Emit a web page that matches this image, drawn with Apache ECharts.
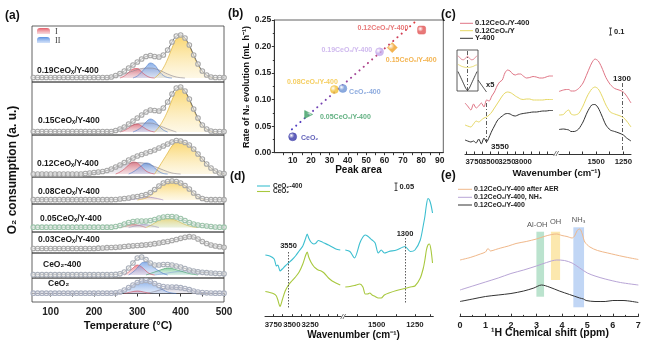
<!DOCTYPE html>
<html><head><meta charset="utf-8">
<script src="https://cdn.jsdelivr.net/npm/echarts@6/dist/echarts.min.js"></script>
<style>html,body{margin:0;padding:0;background:#fff}#c{width:664px;height:347px}</style>
</head><body><div id="c"></div>
<script>
const F = 'Arial, "Liberation Sans", Helvetica, sans-serif';
const fb = s => 'bold ' + s + 'px ' + F;

// ---------------- (a) O2-TPD data ----------------
const tempC = [60,70,80,90,100,110,120,130,140,150,160,170,180,190,200,210,220,230,240,250,260,270,280,290,300,310,320,330,340,350,360,370,380,390,400,410,420,430,440,450,460,470,480,490,500];
const aNames = ['0.19CeOₓ/Y-400','0.15CeOₓ/Y-400','0.12CeOₓ/Y-400','0.08CeOₓ/Y-400','0.05CeOₓ/Y-400','0.03CeOₓ/Y-400','CeO₂-400','CeO₂'];
const o2_019 = [0.5,0.5,0.5,0.5,0.5,0.5,0.5,0.5,0.5,0.5,0.5,0.5,0.5,0.5,0.5,0.5,0.5,0.5,1,2.5,4.5,7,10,13,16,19,21.5,22.5,21.5,21,23,28,36,42,43,40,33,23,14,7,3,1,0.5,0.5,0.5];
const o2_015 = [0.5,0.5,0.5,0.5,0.5,0.5,0.5,0.5,0.5,0.5,0.5,0.5,0.5,0.5,0.5,0.5,0.5,0.5,0.5,1.5,3,5,8,11,14,17,20,22,21.5,21,24,30,38,44,45,41,33,23,14,7,3,1,0.5,0.5,0.5];
const o2_012 = [0,0,0,0,0,0,0,0,0,0,0,0,0.5,1,1.5,2,2.5,3.5,5,7,9,11.5,14,16,18,19.5,21,22.5,24,26,28,30,32,33.5,33,31.5,29,25,20,15,10,6,3,1,0.5];
const o2_008 = [0.3,0.3,0.3,0.3,0.3,0.3,0.3,0.3,0.3,0.3,0.3,0.3,0.3,0.3,0.3,0.3,0.3,0.3,0.3,0.5,1,1.5,2,3,3.5,4.5,5.5,7.5,10.5,14,17,18.5,19,18.5,17,14.5,11,7,3.5,1.5,0.5,0.3,0.3,0.3,0.3];
const o2_005 = [0.3,0.3,0.3,0.3,0.3,0.3,0.3,0.3,0.3,0.3,0.3,0.3,0.3,0.3,0.3,0.3,0.3,0.3,0.3,1,2,3.5,5,6,6.5,6.5,6.5,7,8,9.5,10.5,11,11,10.5,9,7,5,3.5,2.5,2,1.5,1,0.5,0.3,0.3];
const o2_003 = [0,0,0,0,0,0,0,0,0,0,0,0,0,0,0,0.3,0.5,0.8,1,1.2,1.5,2,2.3,2.7,3,3.3,3.7,4.2,4.8,5.5,6.3,7,8,9,10.2,11.2,11.8,11.5,9.5,7,5,3.5,2.5,1.8,1.2];
const o2_c400 = [0.3,0.3,0.3,0.3,0.3,0.3,0.3,0.3,0.3,0.3,0.3,0.3,0.3,0.3,0.3,0.3,0.3,0.3,0.3,0.6,1.2,3,7,12,17,18,15.5,12,10,10,10.5,10.5,10,9,8,6.5,5,4,3.2,2.7,2.3,2,1.7,1.4,1.2];
const o2_ceo2 = [0.3,0.3,0.3,0.3,0.3,0.3,0.3,0.3,0.3,0.3,0.3,0.3,0.3,0.3,0.3,0.3,0.3,0.3,0.3,0.6,1.5,3.5,6,8.5,11,12.5,13,12,10,8,7,6.5,6.5,6.3,5.8,5,3.8,2.5,1.5,1,0.7,0.5,0.3,0.3,0.3];

// fitted peaks [temperature, intensity]
const pk019_br = [[230,0],[250,1.5],[270,4],[290,7],[310,9.5],[330,10],[350,8],[370,4],[390,1],[410,0]];
const pk019_I = [[260,0],[270,2],[280,5.5],[290,9],[300,9.5],[310,6],[320,2.5],[330,0.5],[340,0]];
const pk019_II = [[290,0],[300,2],[310,6],[320,11],[330,15],[340,13],[350,7],[360,2.5],[370,0.5],[380,0]];
const pk019_III = [[340,0],[350,4],[360,10],[370,19],[380,30],[390,39],[400,42],[410,39],[420,32],[430,22],[440,13],[450,6.5],[460,2.5],[470,0.5],[480,0]];
const pk015_br = [[230,0],[250,1.5],[270,4],[290,7],[310,9],[330,9],[350,6.5],[370,3],[390,0]];
const pk015_I = [[260,0],[270,1.5],[280,4],[290,7],[300,8],[310,6],[320,3],[330,1],[340,0]];
const pk015_II = [[290,0],[300,2],[310,5],[320,10],[330,13],[340,11],[350,6],[360,2],[370,0]];
const pk015_III = [[340,0],[350,5],[360,12],[370,21],[380,32],[390,41],[400,44],[410,40],[420,32],[430,22],[440,13],[450,6.5],[460,2.5],[470,0.5],[480,0]];
const pk012_br = [[180,0],[200,1],[220,2.5],[240,5],[260,8],[280,10.5],[300,11.5],[320,10.5],[340,7.5],[360,4],[380,1],[400,0]];
const pk012_I = [[250,0],[260,2],[270,5],[280,9],[290,12],[300,11],[310,7],[320,3],[330,1],[340,0]];
const pk012_II = [[280,0],[290,2],[300,5],[310,8.5],[320,11],[330,10],[340,6],[350,2.5],[360,0.5],[370,0]];
const pk012_III = [[340,0],[350,7],[360,14],[370,21],[380,28],[390,32],[400,32.5],[410,31],[420,28],[430,24.5],[440,20],[450,15],[460,10],[470,6],[480,3],[490,1],[500,0]];
const pk008_pu = [[280,0],[300,1.5],[320,3],[340,2],[360,0]];
const pk008_III = [[300,0],[320,2],[330,4.5],[340,8],[350,12],[360,15.5],[370,17.5],[380,18.5],[390,18],[400,16.5],[410,14],[420,10.5],[430,6.5],[440,3],[450,1],[460,0]];
const pk005_I = [[260,0],[275,1.5],[290,3],[305,2],[320,0]];
const pk005_pu = [[280,0],[300,2],[315,3],[330,2],[350,0]];
const pk005_III = [[320,0],[330,2],[340,4.5],[350,7],[360,8.5],[370,9],[380,8.5],[390,7],[400,5],[410,3],[420,1.5],[430,0.5],[440,0]];
const pkc400_lb = [[340,0],[370,2],[400,4],[420,4.5],[440,4],[470,2.5],[500,1.5]];
const pkc400_gr = [[320,0],[340,3],[360,6],[370,7],[380,6.5],[400,4],[420,1.5],[440,0]];
const pkc400_I = [[270,0],[280,3],[290,7],[300,10],[310,8],[320,4],[330,1],[340,0]];
const pkc400_II = [[280,0],[290,3],[300,7],[310,12],[320,13],[330,11],[340,7],[350,4],[360,1.5],[370,0]];
const pkceo2_br = [[320,0],[340,2],[360,4.5],[380,6],[400,5.5],[420,3.5],[440,1.5],[460,0.5],[470,0]];
const pkceo2_I = [[270,0],[285,1.5],[300,2.5],[315,1.5],[330,0]];
const pkceo2_II = [[260,0],[270,2],[280,4.5],[290,7.5],[300,10],[310,12],[320,12.5],[330,11.5],[340,9],[350,6],[360,3.5],[370,1.5],[380,0.5],[390,0]];
const aTempTicks = [100,200,300,400,500];

// ---------------- (b) data ----------------
const bNames = ['CeO₂','0.05CeOₓ/Y-400','0.08CeOₓ/Y-400','CeO₂-400','0.19CeOₓ/Y-400','0.15CeOₓ/Y-400','0.12CeOₓ/Y-400'];
const bPeakArea = [10, 18.7, 32.7, 37.3, 57.3, 64.2, 80.2];
const bRateN2 = [0.030, 0.072, 0.119, 0.121, 0.190, 0.198, 0.231];
const bFitX = [9.6, 76.5];
const bFitY = [0.044, 0.246];
const bTicksX = [10,20,30,40,50,60,70,80,90];

// ---------------- (c) DRIFTS data ----------------
const cWnL = [3890,3850,3800,3760,3720,3680,3640,3600,3560,3520,3480,3440,3400,3360,3320,3280,3240,3200,3160,3120,3080,3040,3000,2950,2900,2850,2800,2750,2700,2650,2600,2545];
const cPinkL = [57,54,50,56,52,54,57,53,60,59,64,68,74,78,80,87,90,89,86,85,86,86,84,82,82.5,83.5,83,82,82,83,84,84];
const cYelL = [35,34,33,36,39,38,40,42,43,45,48,52,56,60,64,67,68,67.5,66,64,62.5,61,60.5,61,61,60,60,60,60,60.5,60.5,60.5];
const cBlkL = [20,19,18,19,17,21,16,22,18,23,29,34,39,42,44,46,46.5,46,44.5,44,45,46,46.5,47,47.5,48,48,48.5,49,49,49.5,49.5];
const cWnR = [1840,1800,1770,1750,1730,1700,1660,1620,1580,1540,1510,1480,1450,1410,1370,1330,1290,1250,1220,1180];
const cPinkR = [68.5,70,70.5,70.5,69,69,71.5,77,87,97,101,99,93,82.5,75.5,71.5,70,68,64,57];
const cYelR = [45,45.5,49,50,46,45,46.5,54,64,71,73,71,65,55,48,46,44.5,42.5,39,33];
const cBlkR = [30.5,31,30.5,30,28.5,28.5,31,38,48,55,55.5,52,45,35,30,28.5,27,25,22,19];
const cInsetWn = [3600,3590,3580,3570,3560,3550,3540,3530,3520,3510,3500];
const cInsetPink = [34.5,32.5,30.7,30.5,32,34,32,30.5,30.7,32.5,34.5];
const cInsetYel = [26,25,24,23.5,23,23,23,23.5,24,25,25.5];
const cInsetBlk = [19,15,11,7,3,0.5,3,7,11,15,19];
const cLabelsL = [3750,3500,3250,3000];
const cLabelsR = [1500,1250];

// ---------------- (d) DRIFTS data ----------------
const dWnL = [3860,3800,3740,3710,3690,3660,3630,3590,3545,3500,3450,3400,3350,3310,3290,3270,3240,3200,3170,3140,3100,3060,3000,2950,2900,2840];
const dCyanL = [65,64,61,54,55,49,51,54,57,60,64,69,74,82,86,82,78,76,77,79.5,78.5,77,75,73,71,70];
const dGreenL = [28.5,27.5,26,24,20,13.5,20,29,35,39,43,48,56,65,68,63,58,53.5,51.5,50,49,47,42,39,37,35];
const dWnR = [1705,1675,1645,1610,1590,1575,1560,1545,1530,1510,1490,1470,1450,1420,1370,1315,1280,1250,1215,1195,1185,1175,1165,1155,1145,1135];
const dCyanR = [70,68.5,62,77,83,85,84,82,80,77,67,70,67,68.5,70,73.5,68.5,70,80,95,103.5,115,121.5,120,115,107];
const dGreenR = [33,33.5,34.5,36,33,26,26,27,25,23.5,22,22,25,27,29.5,31.5,33,34,42,52,60,70,75,76,70,57];
const dLabelsL = [3750,3500,3250];
const dLabelsR = [1500,1250];

// ---------------- (e) 1H NMR data ----------------
const eAfterAER = [[0,60],[0.4,62.5],[0.8,66],[1.0,68],[1.1,71.5],[1.2,69],[1.4,70.5],[1.6,72],[1.9,74],[2.2,76.5],[2.6,78.5],[3.0,81],[3.3,83.5],[3.6,85.5],[3.8,86],[4.0,84.5],[4.2,83.5],[4.4,82],[4.5,84],[4.6,89.5],[4.7,91],[4.8,86],[4.9,78],[5.1,73],[5.4,69.5],[5.8,67],[6.4,63.5],[7.0,60.5]];
const eNH3 = [[0,30],[0.5,34],[1.0,38],[1.5,42],[2.0,46.5],[2.5,50],[3.0,54],[3.4,57.5],[3.8,60],[4.1,59.5],[4.4,57],[4.7,52],[5.0,47],[5.3,44],[5.7,41],[6.3,37.5],[7.0,35]];
const eFresh = [[0,18.5],[0.5,21],[1.0,23.5],[1.5,25],[2.0,26.5],[2.5,29],[2.9,32],[3.2,35],[3.5,33],[3.9,29],[4.3,25.5],[4.7,22],[4.85,21],[4.95,19.5],[5.3,18.5],[5.7,18.5],[6.0,19.5],[6.4,19.5],[7.0,17.5]];
const eBandNames = ['Al-OH','OH','NH₃'];
const eBandFrom = [3.0, 3.57, 4.45];
const eBandTo = [3.3, 3.93, 4.87];
const eBandLow = [23.3, 40, 12.7];
const eBandHigh = [88.3, 88.3, 92.7];

// ================= build =================
const grids = [], xAxes = [], yAxes = [], series = [], graphics = [], extraX = [];
const pair = (xs, ys) => xs.map((x, i) => [x, ys[i]]);
const grad = (a, b) => ({type:'linear', x:0, y:0, x2:0, y2:1, colorStops:[{offset:0,color:a},{offset:1,color:b}]});
const txt = (text, x, y, font, fill, align, extra) => Object.assign({type:'text', x, y, silent:true, style:{text, font, fill: fill || '#222', align: align || 'left', verticalAlign:'middle'}}, extra || {});
const ln = (x1, y1, x2, y2, stroke, w, dash) => ({type:'line', silent:true, shape:{x1,y1,x2,y2}, style:{stroke, lineWidth:w||1, lineDash:dash||null}});
const plain = v => String(v);

// ---- (a)
const aEdges = [26, 82, 135, 177, 204, 232, 253, 278, 302];
const aBase = [78, 132, 174, 200, 227.5, 248.5, 275, 293.5];
const peakStyle = {
  red: ['#e45c68', 'rgba(244,190,196,0.55)', '#d04858'],
  blue: ['#5a8fe0', 'rgba(180,205,245,0.55)', '#4a78c8'],
  yellow: ['#f8c532', 'rgba(252,238,195,0.6)', '#d8a820'],
  gray: ['rgba(150,140,165,0.65)', 'rgba(215,210,222,0.45)', '#8a8490'],
  green: ['#5cbc80', 'rgba(190,232,205,0.55)', '#3f9a63'],
  purple: ['#b89ad8', 'rgba(225,212,240,0.5)', '#9a80c0'],
  lblue: ['rgba(150,185,230,0.7)', 'rgba(205,222,245,0.45)', '#8aa8d8']
};
const aPanels = [
  {env:o2_019, peaks:[[pk019_br,'gray'],[pk019_I,'red'],[pk019_II,'blue'],[pk019_III,'yellow']]},
  {env:o2_015, peaks:[[pk015_br,'gray'],[pk015_I,'red'],[pk015_II,'blue'],[pk015_III,'yellow']]},
  {env:o2_012, peaks:[[pk012_br,'gray'],[pk012_I,'red'],[pk012_II,'blue'],[pk012_III,'yellow']]},
  {env:o2_008, peaks:[[pk008_pu,'purple'],[pk008_III,'yellow']]},
  {env:o2_005, peaks:[[pk005_I,'red'],[pk005_pu,'purple'],[pk005_III,'yellow']], fill:'rgba(170,220,190,0.35)', dot:'#9cc4aa', line:'#3f8f5f'},
  {env:o2_003, peaks:[]},
  {env:o2_c400, peaks:[[pkc400_lb,'lblue'],[pkc400_gr,'green'],[pkc400_I,'red'],[pkc400_II,'blue']], dot:'#aab0ba'},
  {env:o2_ceo2, peaks:[[pkceo2_br,'gray'],[pkceo2_I,'red'],[pkceo2_II,'blue']], dot:'#aab0c0', line:'#34407a'}
];
aPanels.forEach((p, i) => {
  grids.push({left:32, top:aEdges[i], width:192, height:aEdges[i+1]-aEdges[i], show:true, borderColor:'#3a3a3a', borderWidth:0.8, backgroundColor:'transparent'});
  const last = i === aPanels.length - 1;
  xAxes.push({gridIndex:i, type:'value', min:57, max:500, show:last, splitLine:{show:false},
    axisLine:{show:true, lineStyle:{color:'#333', width:1}},
    axisTick:{show:true, customValues:[100,150,200,250,300,350,400,450,500], length:3, lineStyle:{color:'#333'}},
    axisLabel:{customValues:aTempTicks, formatter:plain, fontFamily:F, fontWeight:'bold', fontSize:10, color:'#222', margin:5}});
  yAxes.push({gridIndex:i, type:'value', min:-(aEdges[i+1]-aBase[i]), max:aBase[i]-aEdges[i], show:false});
  p.peaks.forEach(([d, k]) => {
    const st = peakStyle[k];
    series.push({type:'line', xAxisIndex:i, yAxisIndex:i, data:d, smooth:0.4, symbol:'none', silent:true, z:2,
      lineStyle:{width:0.6, color:st[2]}, areaStyle:{color:grad(st[0], st[1]), origin:0}});
  });
  const env = {type:'line', xAxisIndex:i, yAxisIndex:i, data:pair(tempC, p.env), smooth:0.3, symbol:'circle', symbolSize:4.6, showAllSymbol:true, silent:true, z:3,
    lineStyle:{color:p.line || '#5a5a5a', width:0.9},
    itemStyle:{color:'rgba(238,238,238,0.6)', borderColor:p.dot || '#a8a8a8', borderWidth:1.1}};
  if (p.fill) env.areaStyle = {color:p.fill, origin:0};
  series.push(env);
});
const aLabelPos = [[37,71],[38,121],[37,164],[38,192],[40,219],[38,240],[43,265],[48,284]];
aNames.forEach((n, i) => graphics.push(txt(n, aLabelPos[i][0], aLabelPos[i][1], fb(8.5), '#1a1a1a')));
graphics.push({type:'rect', silent:true, shape:{x:37, y:28, width:13, height:6, r:[3,3,0,0]}, style:{fill:grad('#e45c68','rgba(244,190,196,0.6)')}});
graphics.push({type:'rect', silent:true, shape:{x:37, y:37, width:13, height:6, r:[3,3,0,0]}, style:{fill:grad('#5a8fe0','rgba(180,205,245,0.6)')}});
graphics.push(txt('I', 55, 31.5, '8px "Liberation Serif", "Times New Roman", serif', '#333'));
graphics.push(txt('II', 55, 40.5, '8px "Liberation Serif", "Times New Roman", serif', '#333'));
graphics.push(txt('(a)', 5, 16, fb(12), '#111'));
graphics.push(txt('O₂ consumption (a. u.)', 13, 170, fb(12), '#111', 'center', {rotation:Math.PI/2}));
graphics.push(txt('Temperature (°C)', 128, 326, fb(11), '#111', 'center'));

// ---- (b) grid index 8
grids.push({left:274.3, top:20, width:169, height:132.7, show:true, borderColor:'#3a3a3a', borderWidth:0.8, backgroundColor:'transparent'});
xAxes.push({gridIndex:8, type:'value', min:0, max:92, splitLine:{show:false},
  axisLine:{show:true, lineStyle:{color:'#333'}},
  axisTick:{show:true, customValues:[5,10,15,20,25,30,35,40,45,50,55,60,65,70,75,80,85,90], length:2.5, lineStyle:{color:'#333'}},
  axisLabel:{customValues:bTicksX, formatter:plain, fontFamily:F, fontWeight:'bold', fontSize:8.5, color:'#222', margin:3}});
yAxes.push({gridIndex:8, type:'value', min:0, max:0.25, interval:0.05, splitLine:{show:false},
  axisLine:{show:true, lineStyle:{color:'#333'}},
  axisTick:{show:true, length:2.5, lineStyle:{color:'#333'}},
  minorTick:{show:true, splitNumber:2, length:1.5, lineStyle:{color:'#333'}},
  axisLabel:{formatter:v => v.toFixed(2), fontFamily:F, fontWeight:'bold', fontSize:8.5, color:'#222', margin:3}});
series.push({type:'line', xAxisIndex:8, yAxisIndex:8, data:pair(bFitX, bFitY), symbol:'none', silent:true, z:2,
  lineStyle:{width:2, cap:'round', type:[0.1, 5.5], color:{type:'linear', x:0, y:0, x2:1, y2:0, colorStops:[{offset:0,color:'#4a40c8'},{offset:0.5,color:'#a0449a'},{offset:1,color:'#e23a3a'}]}}});
const bColors = ['#3a3aa8','#3b9e63','#f2c23a','#6f95d6','#c3a8ea','#f0a126','#e25656'];
const bSymbols = ['circle','triangle','circle','circle','circle','diamond','roundRect'];
const bRot = [0,-90,0,0,0,0,0];
const bLabelCfg = [
  {position:'right', distance:4, offset:[0,1]},
  {position:'right', distance:7, offset:[0,3]},
  {position:'top', distance:2, offset:[-22,2]},
  {position:'right', distance:2, offset:[0,4]},
  {position:'left', distance:3, offset:[0,-2]},
  {position:'bottom', distance:5, offset:[19,-1]},
  {position:'left', distance:9, offset:[0,-2]}
];
series.push({type:'scatter', xAxisIndex:8, yAxisIndex:8, z:3, silent:true,
  data:bPeakArea.map((x, i) => ({value:[x, bRateN2[i]], name:bNames[i], symbol:bSymbols[i], symbolRotate:bRot[i], symbolSize:i===5?10:8,
    itemStyle:{color:{type:'radial', x:0.35, y:0.35, r:0.75, colorStops:[{offset:0,color:'#ffffff'},{offset:0.45,color:bColors[i]},{offset:1,color:bColors[i]}]}, borderColor:bColors[i], borderWidth:0.6},
    label:Object.assign({show:true, formatter:'{b}', color:bColors[i], fontFamily:F, fontWeight:'bold', fontSize:7}, bLabelCfg[i])}))});
graphics.push(txt('(b)', 228, 14, fb(12), '#111'));
graphics.push(txt('Rate of N₂ evolution (mL h⁻¹)', 246.5, 87, fb(9), '#111', 'center', {rotation:Math.PI/2}));
graphics.push(txt('Peak area', 358.5, 170.5, fb(10), '#111', 'center'));

// ---- IR axis helpers: labels split over two axes sharing one grid so none is dropped for crowding
const labFont = {formatter:plain, hideOverlap:false, fontFamily:F, fontWeight:'bold', fontSize:7.8, color:'#222', margin:4};
const irAxis = (gi, min, max, ticks, labels) => ({gridIndex:gi, type:'value', min, max, inverse:true, position:'bottom', splitLine:{show:false},
  axisLine:{show:true, lineStyle:{color:'#333', width:1}},
  axisTick:{show:true, inside:true, customValues:ticks, length:2.5, lineStyle:{color:'#333'}},
  axisLabel:Object.assign({customValues:labels.filter((v, k) => k % 2 === 0)}, labFont)});
const irAxisB = (gi, min, max, labels) => ({gridIndex:gi, type:'value', min, max, inverse:true, position:'bottom', offset:0, splitLine:{show:false},
  axisLine:{show:false}, axisTick:{show:false},
  axisLabel:Object.assign({customValues:labels.filter((v, k) => k % 2 === 1)}, labFont)});

// ---- (c) grids 9 (left), 10 (right), 11 (inset)
grids.push({left:465, top:40, width:88.3, height:114});
grids.push({left:559, top:40, width:72, height:114});
grids.push({left:457, top:50, width:21, height:41, show:true, borderColor:'#333', borderWidth:0.8, backgroundColor:'transparent'});
xAxes.push(irAxis(9, 2540, 3890, [3875,3750,3625,3500,3375,3250,3125,3000,2875,2750,2625], cLabelsL));
xAxes.push(irAxis(10, 1180, 1840, [1750,1625,1500,1375,1250], cLabelsR));
xAxes.push({gridIndex:11, type:'value', min:3495, max:3605, inverse:true, show:false});
extraX.push(irAxisB(9, 2540, 3890, cLabelsL), irAxisB(10, 1180, 1840, cLabelsR));
yAxes.push({gridIndex:9, type:'value', min:6, max:120, show:false});
yAxes.push({gridIndex:10, type:'value', min:6, max:120, show:false});
yAxes.push({gridIndex:11, type:'value', min:0, max:40, show:false});
const cCols = ['#e07585', '#e6d864', '#333333'];
const irLine = (gi, xs, ys, color, w, extra) => Object.assign({type:'line', xAxisIndex:gi, yAxisIndex:gi, data:pair(xs, ys), smooth:0.25, symbol:'none', silent:true, lineStyle:{color, width:w || 1}}, extra || {});
const dashDot = {type:[4,2,1,2], color:'#333', width:0.8};
series.push(irLine(9, cWnL, cPinkL, cCols[0]));
series.push(irLine(9, cWnL, cYelL, cCols[1]));
series.push(irLine(9, cWnL, cBlkL, cCols[2], 1, {markLine:{silent:true, symbol:'none', label:{show:false}, lineStyle:dashDot, data:[[{coord:[3560, 57]},{coord:[3560, 16]}]]}}));
series.push(irLine(10, cWnR, cPinkR, cCols[0]));
series.push(irLine(10, cWnR, cYelR, cCols[1]));
series.push(irLine(10, cWnR, cBlkR, cCols[2], 1, {markLine:{silent:true, symbol:'none', label:{show:false}, lineStyle:dashDot, data:[[{coord:[1256, 77]},{coord:[1256, 8]}]]}}));
series.push(irLine(11, cInsetWn, cInsetPink, cCols[0], 0.9));
series.push(irLine(11, cInsetWn, cInsetYel, cCols[1], 0.9));
series.push(irLine(11, cInsetWn, cInsetBlk, cCols[2], 0.9, {markLine:{silent:true, symbol:'none', label:{show:false}, lineStyle:dashDot, data:[{xAxis:3550}]}}));
graphics.push(txt('(c)', 441, 15, fb(12), '#111'));
[['0.12CeOₓ/Y-400', 23.3], ['0.12CeOₓ/Y', 30.7], ['Y-400', 38.3]].forEach(([t, y], i) => {
  graphics.push(ln(460, y, 473, y, cCols[i], 1));
  graphics.push(txt(t, 475, y, fb(7.5), '#222'));
});
graphics.push(ln(610.5, 28, 610.5, 35, '#333', 0.9), ln(609, 28, 612, 28, '#333', 0.9), ln(609, 35, 612, 35, '#333', 0.9));
graphics.push(txt('0.1', 614, 31.5, fb(7.5), '#222'));
graphics.push(ln(478, 80, 486.5, 92, '#333', 0.8));
graphics.push(txt('x5', 486, 85, fb(7.5), '#222'));
graphics.push(txt('3550', 500, 147, fb(8), '#222', 'center'));
graphics.push(txt('1300', 622, 79, fb(8), '#222', 'center'));
graphics.push(txt('//', 556, 154, 'italic 8px ' + F, '#333', 'center'));
graphics.push(txt('Wavenumber (cm⁻¹)', 556.5, 173, fb(9.5), '#111', 'center'));

// ---- (d) grids 12 (left), 13 (right)
grids.push({left:265, top:190, width:76, height:126.7});
grids.push({left:345, top:190, width:88.3, height:126.7});
xAxes.push(irAxis(12, 2830, 3865, [3750,3625,3500,3375,3250,3125,3000,2875], dLabelsL));
xAxes.push(irAxis(13, 1130, 1707, [1625,1500,1375,1250,1150], dLabelsR));
extraX.push(irAxisB(12, 2830, 3865, dLabelsL), irAxisB(13, 1130, 1707, dLabelsR));
yAxes.push({gridIndex:12, type:'value', min:3.3, max:130, show:false});
yAxes.push({gridIndex:13, type:'value', min:3.3, max:130, show:false});
const dCols = ['#3dbfd0', '#a8c83e'];
const dotted = {type:[1.5,1.5], color:'#333', width:0.8};
series.push(irLine(12, dWnL, dCyanL, dCols[0], 1.1));
series.push(irLine(12, dWnL, dGreenL, dCols[1], 1.1, {markLine:{silent:true, symbol:'none', label:{show:false}, lineStyle:dotted, data:[[{coord:[3545, 68]},{coord:[3545, 12]}]]}}));
series.push(irLine(13, dWnR, dCyanR, dCols[0], 1.1));
series.push(irLine(13, dWnR, dGreenR, dCols[1], 1.1, {markLine:{silent:true, symbol:'none', label:{show:false}, lineStyle:dotted, data:[[{coord:[1315, 82]},{coord:[1315, 17]}]]}}));
graphics.push(txt('(d)', 230, 177, fb(12), '#111'));
[['CeO₂-400', 186], ['CeO₂', 191.5]].forEach(([t, y], i) => {
  graphics.push(ln(257, y, 270, y, dCols[i], 1.1));
  graphics.push(txt(t, 273, y, fb(6.5), '#222'));
});
graphics.push(ln(396, 183, 396, 190.5, '#333', 0.9), ln(394.5, 183, 397.5, 183, '#333', 0.9), ln(394.5, 190.5, 397.5, 190.5, '#333', 0.9));
graphics.push(txt('0.05', 399.5, 187, fb(7.5), '#222'));
graphics.push(txt('3550', 288.5, 246, fb(7.5), '#222', 'center'));
graphics.push(txt('1300', 405, 234, fb(7.5), '#222', 'center'));
graphics.push(txt('//', 343, 316.7, 'italic 8px ' + F, '#333', 'center'));
graphics.push(txt('Wavenumber (cm⁻¹)', 353.5, 335, fb(10), '#111', 'center'));

// ---- (e) grid 14
grids.push({left:460, top:200, width:178.3, height:116.7});
xAxes.push({gridIndex:14, type:'value', min:0, max:7, interval:1, splitLine:{show:false},
  axisLine:{show:true, lineStyle:{color:'#333'}},
  axisTick:{show:true, inside:true, length:3, lineStyle:{color:'#333'}},
  minorTick:{show:true, splitNumber:2, length:1.8, lineStyle:{color:'#333'}},
  axisLabel:{fontFamily:F, fontWeight:'bold', fontSize:9, color:'#222', margin:4}});
yAxes.push({gridIndex:14, type:'value', min:3.3, max:120, show:false});
const eCols = ['#f0b88a', '#b8a5d6', '#333333'];
const bandCols = ['rgba(150,212,180,0.65)', 'rgba(250,220,130,0.65)', 'rgba(160,192,240,0.65)'];
series.push({type:'line', xAxisIndex:14, yAxisIndex:14, data:eFresh, smooth:0.3, symbol:'none', silent:true, z:3, lineStyle:{color:eCols[2], width:1},
  markArea:{silent:true, z:1, data:eBandNames.map((n, i) => [
    {xAxis:eBandFrom[i], yAxis:eBandLow[i], itemStyle:{color:bandCols[i]}, label:{show:true, formatter:n, position:'top', distance:i===1?6:3, offset:[i===0?-3:0,0], color:'#555', fontFamily:F, fontSize:7.5}},
    {xAxis:eBandTo[i], yAxis:eBandHigh[i]}])}});
series.push({type:'line', xAxisIndex:14, yAxisIndex:14, data:eNH3, smooth:0.3, symbol:'none', silent:true, z:3, lineStyle:{color:eCols[1], width:1}});
series.push({type:'line', xAxisIndex:14, yAxisIndex:14, data:eAfterAER, smooth:0.3, symbol:'none', silent:true, z:3, lineStyle:{color:eCols[0], width:1}});
graphics.push(txt('(e)', 441, 176, fb(12), '#111'));
[['0.12CeOₓ/Y-400 after AER', 189.3, 0], ['0.12CeOₓ/Y-400, NH₃', 197.3, 1], ['0.12CeOₓ/Y-400', 205, 2]].forEach(([t, y, k]) => {
  graphics.push(ln(458, y, 472, y, eCols[k], 1));
  graphics.push(txt(t, 474, y, fb(7), '#222'));
});
graphics.push(txt('¹H Chemical shift (ppm)', 550, 333.5, fb(10.5), '#111', 'center'));

const chart = echarts.init(document.getElementById('c'), null, {renderer:'canvas'});
chart.setOption({animation:false, backgroundColor:'#fff', grid:grids, xAxis:xAxes.concat(extraX), yAxis:yAxes, series, graphic:graphics});
</script></body></html>
